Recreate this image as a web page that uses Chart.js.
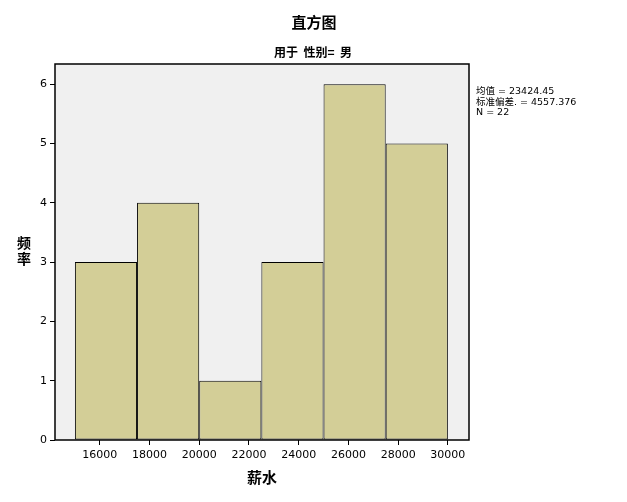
<!DOCTYPE html>
<html>
<head>
<meta charset="utf-8">
<script src="https://cdn.jsdelivr.net/npm/chart.js@4"></script>
<style>
  html, body { margin: 0; padding: 0; background: #ffffff; }
  #wrap { width: 627px; height: 502px; }
</style>
</head>
<body>
<div id="wrap"><canvas id="grafica" width="627" height="502"></canvas></div>
<script>
// Datos del histograma (薪水, 性别 = 男)
const binStarts = [15000, 17500, 20000, 22500, 25000, 27500];
const binWidth = 2500;
const frecuencias = [3, 4, 1, 3, 6, 5];
const xTicks = [16000, 18000, 20000, 22000, 24000, 26000, 28000, 30000];
const yTicks = [0, 1, 2, 3, 4, 5, 6];
const statsLines = ['均值 = 23424.45', '标准偏差. = 4557.376', 'N = 22'];

const FUENTE = '"DejaVu Sans", "Noto Sans CJK SC", sans-serif';

// fondo gris del área, borde y textos extra
const marcoPlugin = {
    id: 'marco',
    beforeDraw(chart) {
        const { ctx, chartArea: a } = chart;
        ctx.save();
        ctx.fillStyle = '#f0f0f0';
        ctx.fillRect(a.left, a.top, a.right - a.left, a.bottom - a.top);
        ctx.restore();
    },
    afterDraw(chart) {
        const { ctx, chartArea: a } = chart;
        ctx.save();
        ctx.strokeStyle = '#000000';
        ctx.lineWidth = 1.5;
        ctx.strokeRect(a.left, a.top, a.right - a.left, a.bottom - a.top);

        ctx.fillStyle = '#000000';
        ctx.textAlign = 'center';
        ctx.textBaseline = 'middle';
        ctx.font = 'bold 15px "Noto Sans CJK SC", sans-serif';
        ctx.fillText('直方图', 314, 22);
        ctx.font = 'bold 12px "Noto Sans CJK SC", sans-serif';
        ctx.fillText('用于  性别=  男', 313, 52);

        // eje y: caracteres apilados
        ctx.font = 'bold 14px "Noto Sans CJK SC", sans-serif';
        ctx.fillText('频', 24, 243);
        ctx.fillText('率', 24, 259);

        ctx.font = 'bold 15px "Noto Sans CJK SC", sans-serif';
        ctx.fillText('薪水', (a.left + a.right) / 2, 477);

        ctx.textAlign = 'left';
        ctx.font = '9.5px ' + FUENTE;
        statsLines.forEach((t, i) => ctx.fillText(t, 476, 92 + i * 10.5));
        ctx.restore();
    }
};

const datos = binStarts.map((s, i) => ({ x: s + binWidth / 2, y: frecuencias[i] }));
// el ancho mínimo lo fija el paso de ticks; se escala al ancho del intervalo
const pasoTicks = xTicks[1] - xTicks[0];

new Chart(document.getElementById('grafica').getContext('2d'), {
    type: 'bar',
    data: {
        datasets: [{
            data: datos,
            backgroundColor: '#d3ce97',
            borderColor: '#000000',
            borderWidth: 1,
            borderSkipped: false,
            barPercentage: binWidth / pasoTicks,
            categoryPercentage: 1
        }]
    },
    options: {
        responsive: false,
        animation: false,
        layout: { padding: { top: 64, right: 158, bottom: 32, left: 30 } },
        scales: {
            x: {
                type: 'linear',
                offset: false,
                min: 14200,
                max: 30850,
                afterBuildTicks: s => { s.ticks = xTicks.map(v => ({ value: v })); },
                afterFit: s => { s.height = 30; },
                grid: { offset: false, drawOnChartArea: false, drawTicks: true, tickLength: 5, color: '#000000' },
                border: { display: false },
                ticks: {
                    color: '#000000',
                    font: { family: FUENTE, size: 11 },
                    maxRotation: 0,
                    padding: 4,
                    callback: v => String(v)
                }
            },
            y: {
                min: 0,
                max: 6.34,
                afterBuildTicks: s => { s.ticks = yTicks.map(v => ({ value: v })); },
                afterFit: s => { s.width = 25; },
                grid: { drawOnChartArea: false, drawTicks: true, tickLength: 5, color: '#000000' },
                border: { display: false },
                ticks: {
                    color: '#000000',
                    font: { family: FUENTE, size: 11 },
                    padding: 3,
                    callback: v => String(v)
                }
            }
        },
        plugins: {
            legend: { display: false },
            tooltip: { enabled: false },
            title: { display: false }
        }
    },
    plugins: [marcoPlugin]
});
</script>
</body>
</html>
